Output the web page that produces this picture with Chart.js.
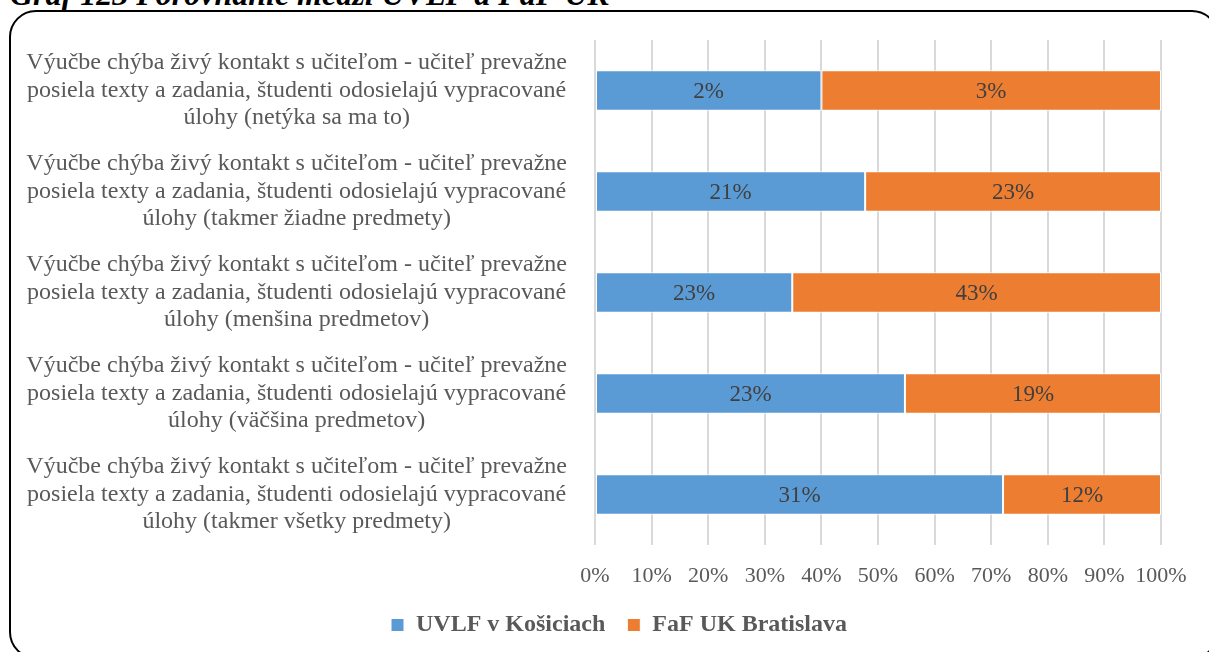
<!DOCTYPE html>
<html>
<head>
<meta charset="utf-8">
<script src="https://cdn.jsdelivr.net/npm/chart.js@4"></script>
<style>
  html, body { margin: 0; padding: 0; background: #fff; overflow: hidden; }
  body { width: 1209px; height: 652px; position: relative; }
  #title {
    position: absolute; left: 10px; top: -22px; white-space: nowrap;
    font: italic bold 32px/32px "Liberation Serif", serif; color: #000;
  }
  #frame {
    position: absolute; left: 9px; top: 10px; width: 1206px; height: 645px;
    border: 2.5px solid #000; border-radius: 27px;
  }
  #wrap { position: absolute; left: 0; top: 0; width: 1209px; height: 652px; }
</style>
</head>
<body>
<div id="title">Graf 123 Porovnanie medzi UVLF a FaF UK</div>
<div id="frame"></div>
<div id="wrap"><canvas id="myChart"></canvas></div>
<script>
const categories = [
  ['Výučbe chýba živý kontakt s učiteľom - učiteľ prevažne', 'posiela texty a zadania, študenti odosielajú vypracované', 'úlohy (netýka sa ma to)'],
  ['Výučbe chýba živý kontakt s učiteľom - učiteľ prevažne', 'posiela texty a zadania, študenti odosielajú vypracované', 'úlohy (takmer žiadne predmety)'],
  ['Výučbe chýba živý kontakt s učiteľom - učiteľ prevažne', 'posiela texty a zadania, študenti odosielajú vypracované', 'úlohy (menšina predmetov)'],
  ['Výučbe chýba živý kontakt s učiteľom - učiteľ prevažne', 'posiela texty a zadania, študenti odosielajú vypracované', 'úlohy (väčšina predmetov)'],
  ['Výučbe chýba živý kontakt s učiteľom - učiteľ prevažne', 'posiela texty a zadania, študenti odosielajú vypracované', 'úlohy (takmer všetky predmety)']
];
const uvlf = [2, 21, 23, 23, 31];
const faf = [3, 23, 43, 19, 12];
const seriesNames = ['UVLF v Košiciach', 'FaF UK Bratislava'];
const xTicks = [0, 10, 20, 30, 40, 50, 60, 70, 80, 90, 100];

// 100% stacked: each bar is the share of the row total
const share = (a, b) => a.map((v, i) => v / (a[i] + b[i]) * 100);
const raw = [uvlf, faf];

const ctx = document.getElementById('myChart');
const serif = '"Liberation Serif", "Times New Roman", serif';

const valueLabels = {
  id: 'valueLabels',
  afterLayout(chart) {
    // legend is centred on the whole frame, not on the canvas minus right padding
    chart.legend.left = 77;
  },
  afterDatasetsDraw(chart) {
    const c = chart.ctx;
    c.save();
    c.font = '23px ' + serif;
    c.fillStyle = '#404040';
    c.textAlign = 'center';
    c.textBaseline = 'middle';
    chart.data.datasets.forEach((ds, di) => {
      chart.getDatasetMeta(di).data.forEach((bar, i) => {
        c.fillText(raw[di][i] + '%', (bar.x + bar.base) / 2, bar.y + 1);
      });
    });
    c.restore();
  }
};

new Chart(ctx, {
  type: 'bar',
  data: {
    labels: categories,
    datasets: [{
      label: seriesNames[0],
      data: share(uvlf, faf),
      backgroundColor: '#5b9bd5',
      borderColor: '#ffffff',
      borderWidth: 1,
      borderSkipped: false
    }, {
      label: seriesNames[1],
      data: share(faf, uvlf),
      backgroundColor: '#ed7d31',
      borderColor: '#ffffff',
      borderWidth: 1,
      borderSkipped: false
    }]
  },
  options: {
    indexAxis: 'y',
    responsive: true,
    maintainAspectRatio: false,
    animation: false,
    barPercentage: 0.4,
    categoryPercentage: 1,
    layout: { padding: { top: 40, right: 48, bottom: 5, left: 0 } },
    scales: {
      x: {
        stacked: true,
        min: 0,
        max: 100,
        afterBuildTicks(scale) {
          scale.ticks = xTicks.map(v => ({ value: v }));
        },
        afterFit(scale) { scale.height = 46; },
        ticks: {
          padding: 18,
          autoSkip: false,
          maxRotation: 0,
          minRotation: 0,
          color: '#595959',
          font: { family: serif, size: 22 },
          callback: v => v + '%'
        },
        grid: { color: '#d9d9d9', lineWidth: 2, drawTicks: false },
        border: { display: false }
      },
      y: {
        stacked: true,
        afterFit(scale) {
          scale.width = 595;
          scale.paddingTop = 0;
          scale.paddingBottom = 0;
        },
        ticks: {
          padding: 20,
          crossAlign: 'center',
          color: '#595959',
          font: { family: serif, size: 24, lineHeight: 1.15 }
        },
        grid: { display: false },
        border: { display: false }
      }
    },
    plugins: {
      legend: {
        position: 'bottom',
        labels: {
          boxWidth: 13,
          boxHeight: 13,
          padding: 22,
          color: '#595959',
          font: { family: serif, size: 24, weight: 'bold' }
        }
      },
      tooltip: { enabled: false }
    }
  },
  plugins: [valueLabels]
});
</script>
</body>
</html>
